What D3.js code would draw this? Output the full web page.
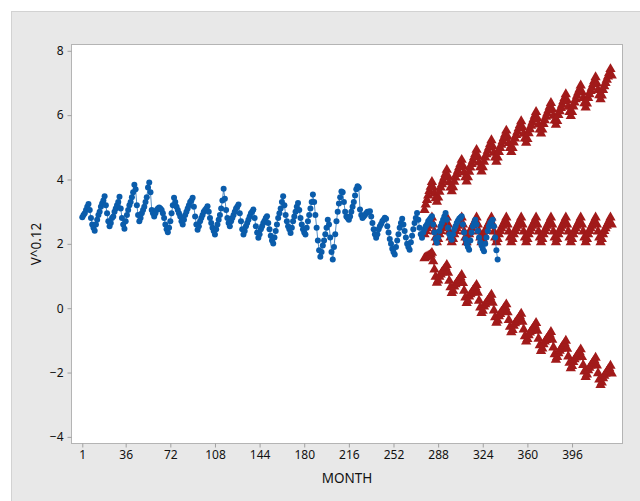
<!DOCTYPE html>
<html>
<head>
<meta charset="utf-8">
<script src="https://cdn.jsdelivr.net/npm/d3@7"></script>
<style>
  body { margin: 0; background: #fff; }
  svg { display: block; }
  text { font-family: "Segoe UI", "Noto Sans", sans-serif; fill: #111; }
</style>
</head>
<body>
<svg width="640" height="501"></svg>
<script>
// observed series V^0.12, months 1..336
var observed = [
    2.83,2.90,2.95,3.05,3.15,3.24,3.05,2.80,2.60,2.50,2.41,2.60,
    2.75,2.90,3.00,3.15,3.25,3.35,3.48,3.20,2.95,2.70,2.55,2.65,
    2.80,2.85,3.00,3.10,3.20,3.30,3.46,3.10,2.80,2.60,2.47,2.70,
    2.90,3.05,3.20,3.30,3.45,3.60,3.84,3.70,3.20,2.90,2.70,2.80,
    2.95,3.05,3.15,3.30,3.45,3.75,3.91,3.60,3.05,2.95,2.85,2.95,
    3.05,3.10,3.13,3.10,3.05,2.95,2.80,2.60,2.45,2.36,2.50,2.70,
    2.95,3.20,3.43,3.30,3.15,3.05,2.95,2.85,2.70,2.60,2.75,2.90,
    3.00,3.10,3.20,3.30,3.35,3.43,3.15,2.85,2.60,2.44,2.55,2.70,
    2.80,2.90,3.00,3.05,3.10,3.17,3.00,2.80,2.65,2.50,2.40,2.29,
    2.45,2.60,2.75,2.90,3.10,3.35,3.71,3.40,3.05,2.80,2.65,2.55,
    2.70,2.80,2.90,3.00,3.10,3.15,3.22,2.95,2.70,2.45,2.29,2.40,
    2.55,2.65,2.75,2.85,2.95,3.00,3.07,2.80,2.55,2.35,2.19,2.30,
    2.45,2.55,2.65,2.72,2.80,2.86,2.65,2.45,2.25,2.10,2.01,2.20,
    2.40,2.60,2.80,2.95,3.10,3.30,3.48,3.20,2.90,2.70,2.55,2.45,
    2.34,2.50,2.70,2.85,3.00,3.15,3.27,3.05,2.80,2.60,2.45,2.35,
    2.29,2.50,2.70,2.90,3.10,3.30,3.53,3.30,2.90,2.50,2.10,1.80,
    1.60,1.75,1.95,2.10,2.30,2.50,2.75,2.60,2.20,1.75,1.51,1.90,
    2.30,2.70,3.00,3.25,3.45,3.63,3.60,3.30,3.00,2.85,2.80,2.75,
    2.85,3.00,3.15,3.30,3.50,3.70,3.79,3.75,3.07,2.90,2.80,2.85,
    2.90,2.95,3.00,3.00,3.01,2.85,2.65,2.45,2.30,2.19,2.30,2.45,
    2.55,2.62,2.70,2.75,2.81,2.78,2.55,2.35,2.15,2.00,1.85,1.75,
    1.67,1.90,2.10,2.30,2.50,2.65,2.78,2.60,2.40,2.20,2.00,1.90,
    1.82,2.05,2.25,2.45,2.65,2.80,2.96,2.75,2.50,2.30,2.19,2.35,
    2.45,2.55,2.60,2.70,2.75,2.80,2.86,2.60,2.35,2.15,2.03,2.20,
    2.40,2.55,2.65,2.75,2.85,2.96,2.75,2.50,2.30,2.20,2.13,2.30,
    2.45,2.55,2.65,2.72,2.78,2.82,2.86,2.60,2.35,2.15,2.00,1.90,
    1.82,2.10,2.35,2.55,2.65,2.75,2.60,2.40,2.20,2.05,1.95,1.85,
    1.77,2.00,2.20,2.40,2.55,2.65,2.70,2.75,2.55,2.20,1.80,1.51
];

// forecasts start at month 277
var forecastStart = 277;

var forecast = [
    2.30,2.40,2.48,2.56,2.64,2.72,2.82,2.60,2.38,2.20,2.05,2.15,
    2.30,2.40,2.48,2.56,2.64,2.72,2.82,2.60,2.38,2.20,2.05,2.15,
    2.30,2.40,2.48,2.56,2.64,2.72,2.82,2.60,2.38,2.20,2.05,2.15,
    2.30,2.40,2.48,2.56,2.64,2.72,2.82,2.60,2.38,2.20,2.05,2.15,
    2.30,2.40,2.48,2.56,2.64,2.72,2.82,2.60,2.38,2.20,2.05,2.15,
    2.30,2.40,2.48,2.56,2.64,2.72,2.82,2.60,2.38,2.20,2.05,2.15,
    2.30,2.40,2.48,2.56,2.64,2.72,2.82,2.60,2.38,2.20,2.05,2.15,
    2.30,2.40,2.48,2.56,2.64,2.72,2.82,2.60,2.38,2.20,2.05,2.15,
    2.30,2.40,2.48,2.56,2.64,2.72,2.82,2.60,2.38,2.20,2.05,2.15,
    2.30,2.40,2.48,2.56,2.64,2.72,2.82,2.60,2.38,2.20,2.05,2.15,
    2.30,2.40,2.48,2.56,2.64,2.72,2.82,2.60,2.38,2.20,2.05,2.15,
    2.30,2.40,2.48,2.56,2.64,2.72,2.82,2.60,2.38,2.20,2.05,2.15,
    2.30,2.40,2.48,2.56,2.64,2.72,2.82,2.60
];

var upper = [
    3.05,3.22,3.36,3.50,3.64,3.77,3.92,3.74,3.56,3.42,3.31,3.44,
    3.62,3.75,3.85,3.96,4.06,4.17,4.30,4.10,3.91,3.75,3.63,3.76,
    3.93,4.06,4.17,4.27,4.38,4.48,4.61,4.42,4.22,4.07,3.94,4.07,
    4.24,4.37,4.48,4.58,4.69,4.79,4.92,4.72,4.53,4.38,4.25,4.38,
    4.55,4.68,4.78,4.89,4.99,5.10,5.22,5.03,4.83,4.68,4.55,4.68,
    4.85,4.98,5.08,5.19,5.29,5.40,5.52,5.33,5.13,4.98,4.85,4.98,
    5.15,5.27,5.38,5.48,5.59,5.69,5.81,5.62,5.42,5.27,5.14,5.26,
    5.44,5.56,5.67,5.77,5.87,5.98,6.10,5.90,5.71,5.55,5.43,5.55,
    5.72,5.84,5.95,6.05,6.15,6.26,6.38,6.18,5.98,5.83,5.70,5.82,
    6.00,6.12,6.22,6.32,6.43,6.53,6.65,6.46,6.26,6.10,5.97,6.10,
    6.27,6.39,6.49,6.60,6.70,6.80,6.92,6.72,6.53,6.37,6.24,6.36,
    6.53,6.65,6.75,6.85,6.96,7.06,7.18,6.98,6.78,6.62,6.49,6.61,
    6.78,6.90,7.00,7.10,7.20,7.31,7.43,7.23
];

var lower = [
    1.55,1.58,1.60,1.62,1.64,1.67,1.72,1.46,1.20,0.98,0.79,0.86,
    0.98,1.05,1.11,1.16,1.22,1.27,1.34,1.10,0.85,0.65,0.47,0.54,
    0.67,0.74,0.79,0.85,0.90,0.96,1.03,0.78,0.54,0.33,0.16,0.23,
    0.36,0.43,0.48,0.54,0.59,0.65,0.72,0.48,0.23,0.02,-0.15,-0.08,
    0.05,0.12,0.18,0.23,0.29,0.34,0.42,0.17,-0.07,-0.28,-0.45,-0.38,
    -0.25,-0.18,-0.12,-0.07,-0.01,0.04,0.12,-0.13,-0.37,-0.58,-0.75,-0.68,
    -0.55,-0.47,-0.42,-0.36,-0.31,-0.25,-0.17,-0.42,-0.66,-0.87,-1.04,-0.96,
    -0.84,-0.76,-0.71,-0.65,-0.59,-0.54,-0.46,-0.70,-0.95,-1.15,-1.33,-1.25,
    -1.12,-1.04,-0.99,-0.93,-0.87,-0.82,-0.74,-0.98,-1.22,-1.43,-1.60,-1.52,
    -1.40,-1.32,-1.26,-1.20,-1.15,-1.09,-1.01,-1.26,-1.50,-1.70,-1.87,-1.80,
    -1.67,-1.59,-1.53,-1.48,-1.42,-1.36,-1.28,-1.52,-1.77,-1.97,-2.14,-2.06,
    -1.93,-1.85,-1.79,-1.73,-1.68,-1.62,-1.54,-1.78,-2.02,-2.22,-2.39,-2.31,
    -2.18,-2.10,-2.04,-1.98,-1.92,-1.87,-1.79,-2.03
];

var xTicks = [1, 36, 72, 108, 144, 180, 216, 252, 288, 324, 360, 396];
var yTicks = [-4, -2, 0, 2, 4, 6, 8];

var blue = "#0a5cab",
    red = "#a11a1a";

var svg = d3.select("svg");

// outer grey panel
svg.append("rect")
    .attr("x", 11.5).attr("y", 11.5)
    .attr("width", 640).attr("height", 501)
    .attr("fill", "#e8e8e8")
    .attr("stroke", "#d2d2d2");

var plotLeft = 72, plotTop = 45, plotRight = 622, plotBottom = 443;

var x = d3.scaleLinear().domain([-7.3, 436.3]).range([plotLeft, plotRight]);
var y = d3.scaleLinear().domain([-4.19, 8.18]).range([plotBottom, plotTop]);

svg.append("rect")
    .attr("x", plotLeft - 0.5).attr("y", plotTop - 0.5)
    .attr("width", plotRight - plotLeft + 1).attr("height", plotBottom - plotTop + 1)
    .attr("fill", "#fff")
    .attr("stroke", "#b4b4b4");

var xAxis = svg.append("g")
    .attr("transform", "translate(0," + (plotBottom + 0.5) + ")")
    .call(d3.axisBottom(x).tickValues(xTicks).tickSize(4).tickSizeOuter(0).tickPadding(3));

var yAxis = svg.append("g")
    .attr("transform", "translate(" + (plotLeft - 0.5) + ",0)")
    .call(d3.axisLeft(y).tickValues(yTicks).tickSize(4).tickSizeOuter(0).tickPadding(4));

[xAxis, yAxis].forEach(function (a) {
    a.select(".domain").remove();
    a.selectAll(".tick line").attr("stroke", "#a0a0a0");
    a.selectAll(".tick text")
        .style("font-family", '"Segoe UI", "Noto Sans", sans-serif')
        .style("font-size", "12px")
        .attr("fill", "#111");
});

svg.append("text")
    .attr("x", (plotLeft + plotRight) / 2).attr("y", 483)
    .attr("text-anchor", "middle")
    .style("font-size", "13.5px")
    .text("MONTH");

svg.append("text")
    .attr("transform", "translate(41," + (plotTop + plotBottom) / 2 + ") rotate(-90)")
    .attr("text-anchor", "middle")
    .style("font-size", "13.5px")
    .text("V^0.12");

var plot = svg.append("g");

// forecast, upper and lower limits
var line = d3.line()
    .x(function (d) { return x(d.m); })
    .y(function (d) { return y(d.v); });

var tri = d3.symbol().type(d3.symbolTriangle).size(46);

[upper, forecast, lower].forEach(function (series) {
    var pts = series.map(function (v, i) { return { m: forecastStart + i, v: v }; });
    plot.append("path")
        .datum(pts)
        .attr("d", line)
        .attr("fill", "none")
        .attr("stroke", red)
        .attr("stroke-width", 0.8);
    plot.append("g").selectAll("path")
        .data(pts)
        .enter().append("path")
        .attr("transform", function (d) { return "translate(" + x(d.m) + "," + y(d.v) + ")"; })
        .attr("d", tri)
        .attr("fill", red);
});

// observed data
var obs = observed.map(function (v, i) { return { m: i + 1, v: v }; });

plot.append("path")
    .datum(obs)
    .attr("d", line)
    .attr("fill", "none")
    .attr("stroke", blue)
    .attr("stroke-opacity", 0.7)
    .attr("stroke-width", 1);

plot.append("g").selectAll("circle")
    .data(obs)
    .enter().append("circle")
    .attr("cx", function (d) { return x(d.m); })
    .attr("cy", function (d) { return y(d.v); })
    .attr("r", 3)
    .attr("fill", blue);
</script>
</body>
</html>
